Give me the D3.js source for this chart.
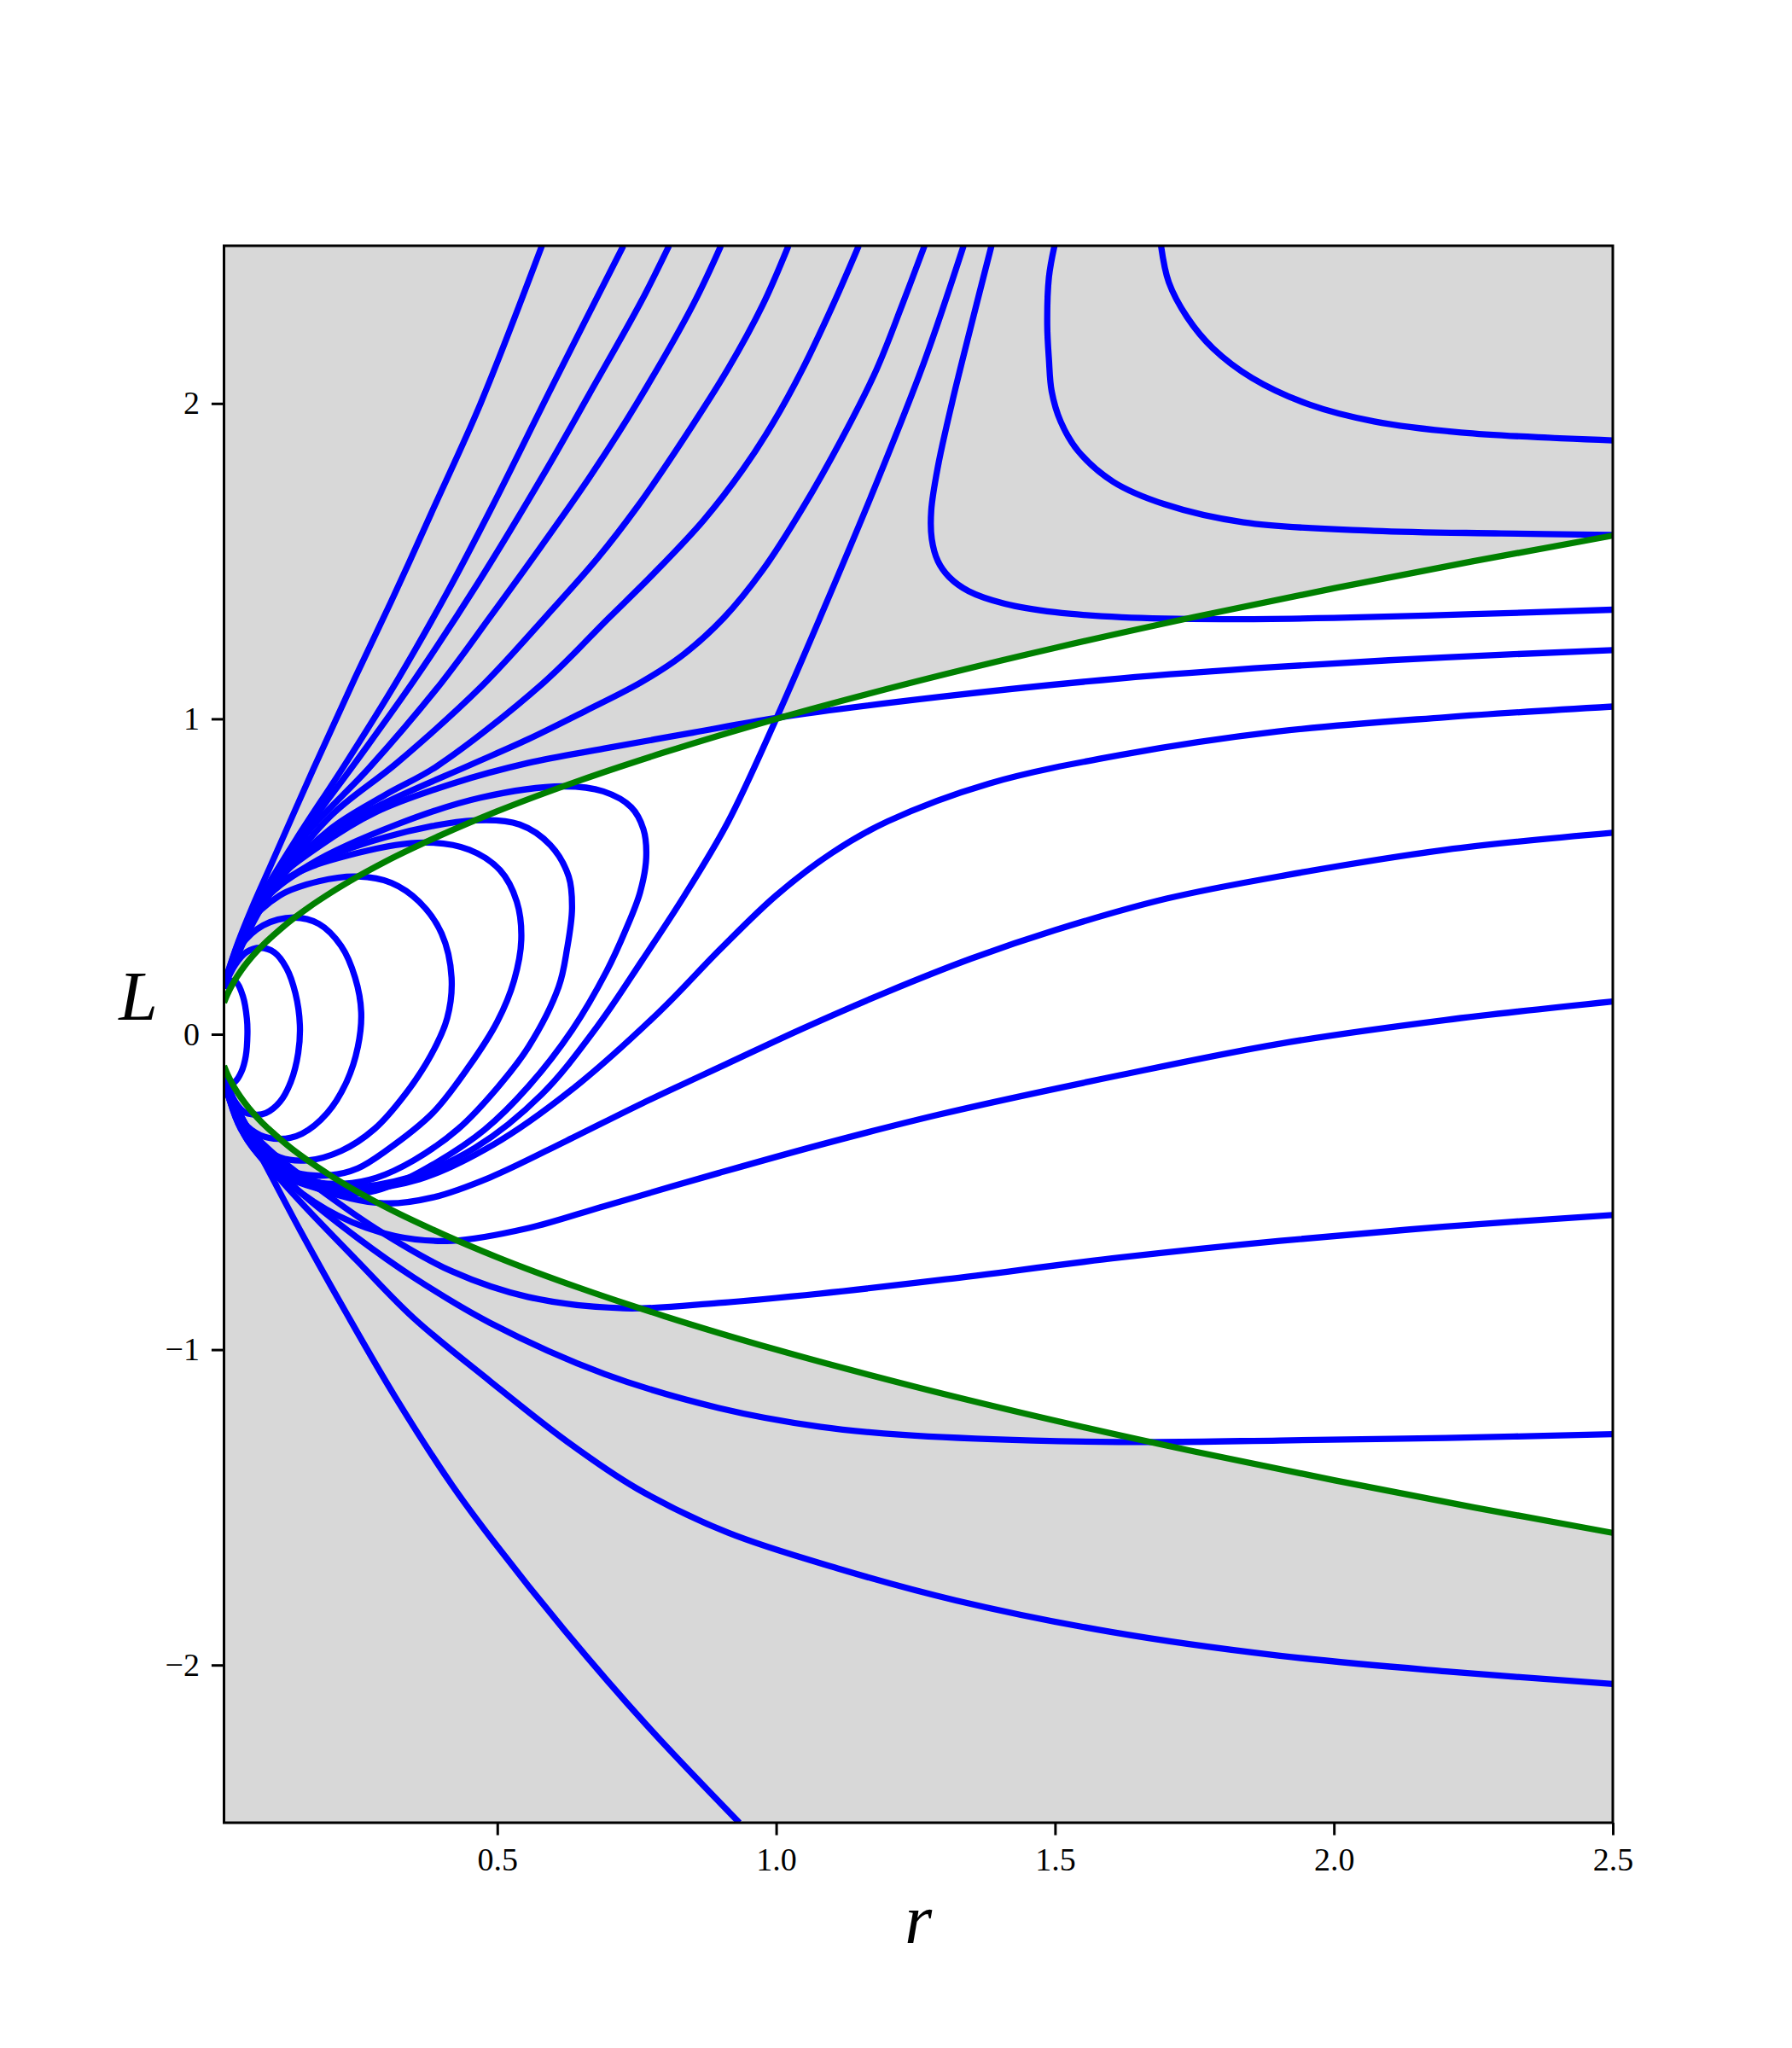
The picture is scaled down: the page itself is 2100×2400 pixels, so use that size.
<!DOCTYPE html>
<html>
<head>
<meta charset="utf-8">
<script src="https://cdn.jsdelivr.net/npm/d3@7"></script>
<style>
  body { margin: 0; background: #fff; }
  svg { display: block; }
</style>
</head>
<body>
<svg id="chart" width="2100" height="2400"></svg>
<script>
// axis ticks
var xTicks = [0.5, 1.0, 1.5, 2.0, 2.5];
var yTicks = [-2, -1, 0, 1, 2];

// boundary L^2 = r (green)
var greenTop = [[0.01,0.1],[0.015,0.122],[0.02,0.141],[0.03,0.173],[0.04,0.2],[0.055,0.235],[0.07,0.265],[0.085,0.292],[0.1,0.316],[0.13,0.361],[0.16,0.4],[0.2,0.447],[0.25,0.5],[0.3,0.548],[0.4,0.632],[0.5,0.707],[0.65,0.806],[0.8,0.894],[1.0,1.0],[1.25,1.118],[1.5,1.225],[1.75,1.323],[2.0,1.414],[2.25,1.5],[2.5,1.581]];
var greenBottom = [[0.01,-0.1],[0.015,-0.122],[0.02,-0.141],[0.03,-0.173],[0.04,-0.2],[0.055,-0.235],[0.07,-0.265],[0.085,-0.292],[0.1,-0.316],[0.13,-0.361],[0.16,-0.4],[0.2,-0.447],[0.25,-0.5],[0.3,-0.548],[0.4,-0.632],[0.5,-0.707],[0.65,-0.806],[0.8,-0.894],[1.0,-1.0],[1.25,-1.118],[1.5,-1.225],[1.75,-1.323],[2.0,-1.414],[2.25,-1.5],[2.5,-1.581]];

// upper fan, left edge -> top edge
var fanA1 = [[0.01,0.16],[0.035,0.29],[0.06,0.40],[0.09,0.52],[0.17,0.84],[0.245,1.13],[0.317,1.40],[0.385,1.665],[0.47,2.0],[0.58,2.5]];
var fanA2 = [[0.01,0.155],[0.04,0.3],[0.075,0.43],[0.14,0.62],[0.225,0.85],[0.32,1.12],[0.41,1.40],[0.49,1.67],[0.6,2.06],[0.726,2.5]];
var fanA3 = [[0.01,0.15],[0.04,0.29],[0.08,0.43],[0.15,0.63],[0.245,0.86],[0.35,1.12],[0.465,1.43],[0.588,1.79],[0.665,2.03],[0.757,2.32],[0.808,2.5]];
var fanA4 = [[0.01,0.15],[0.045,0.31],[0.09,0.46],[0.16,0.64],[0.27,0.844],[0.40,1.115],[0.49,1.33],[0.58,1.55],[0.667,1.77],[0.75,2.0],[0.851,2.313],[0.901,2.5]];
var fanA5 = [[0.01,0.15],[0.05,0.32],[0.1,0.47],[0.2,0.69],[0.32,0.86],[0.47,1.1],[0.59,1.33],[0.68,1.51],[0.75,1.67],[0.82,1.85],[0.913,2.108],[0.976,2.313],[1.022,2.5]];
var fanA6 = [[0.01,0.15],[0.055,0.33],[0.11,0.49],[0.2,0.65],[0.3,0.76],[0.392,0.85],[0.58,1.11],[0.70,1.32],[0.78,1.46],[0.87,1.63],[0.94,1.79],[0.995,1.94],[1.047,2.108],[1.102,2.313],[1.148,2.5]];
var fanA7 = [[0.01,0.15],[0.055,0.33],[0.1,0.48],[0.2,0.64],[0.3,0.735],[0.453,0.855],[0.555,0.935],[0.658,1.025],[0.757,1.115],[0.828,1.196],[0.906,1.32],[0.976,1.472],[1.047,1.667],[1.117,1.886],[1.18,2.108],[1.226,2.313],[1.266,2.5]];

// the two curves through the saddle at (1, 1)
var sepFlat = [[0.01,0.145],[0.05,0.33],[0.1,0.48],[0.18,0.595],[0.283,0.705],[0.42,0.795],[0.555,0.86],[0.692,0.906],[0.85,0.956],[1.0,1.003],[1.3,1.071],[1.616,1.128],[1.9,1.165],[2.2,1.195],[2.5,1.218]];
var sepSteep = [[0.01,-0.13],[0.05,-0.29],[0.1,-0.40],[0.17,-0.465],[0.234,-0.484],[0.34,-0.455],[0.46,-0.36],[0.58,-0.19],[0.679,0.024],[0.76,0.235],[0.835,0.438],[0.913,0.671],[1.0,1.0],[1.085,1.347],[1.18,1.748],[1.266,2.135],[1.336,2.5]];

// upper right, top edge -> right edge
var topC1 = [[1.386,2.5],[1.35,2.25],[1.315,2.0],[1.29,1.8],[1.278,1.66],[1.279,1.57],[1.29,1.5],[1.31,1.45],[1.345,1.405],[1.41,1.365],[1.5,1.338],[1.62,1.322],[1.8,1.316],[2.0,1.32],[2.25,1.332],[2.5,1.346]];
var topC2 = [[1.499,2.5],[1.489,2.4],[1.486,2.25],[1.489,2.14],[1.494,2.038],[1.51,1.943],[1.541,1.85],[1.604,1.752],[1.697,1.68],[1.838,1.623],[2.072,1.596],[2.3,1.588],[2.5,1.583]];
var topC3 = [[1.69,2.5],[1.704,2.384],[1.737,2.273],[1.783,2.175],[1.853,2.081],[1.955,1.997],[2.072,1.943],[2.228,1.908],[2.5,1.883]];

// closed loops, upper fan -> lower fan
var loop1 = [[0.01,0.15],[0.02,0.168],[0.032,0.165],[0.044,0.12],[0.051,0.05],[0.052,0.0],[0.049,-0.07],[0.041,-0.12],[0.03,-0.15],[0.02,-0.155],[0.01,-0.13]];
var loop2 = [[0.01,0.15],[0.03,0.22],[0.05,0.26],[0.075,0.274],[0.1,0.26],[0.122,0.21],[0.138,0.13],[0.146,0.03],[0.143,-0.06],[0.13,-0.15],[0.11,-0.215],[0.085,-0.25],[0.065,-0.255],[0.045,-0.245],[0.025,-0.2],[0.01,-0.14]];
var loop3 = [[0.01,0.15],[0.04,0.28],[0.08,0.345],[0.135,0.37],[0.18,0.35],[0.22,0.28],[0.245,0.18],[0.256,0.07],[0.25,-0.04],[0.23,-0.15],[0.195,-0.25],[0.15,-0.315],[0.11,-0.332],[0.075,-0.32],[0.045,-0.28],[0.02,-0.2],[0.01,-0.14]];
var loop4 = [[0.01,0.15],[0.05,0.34],[0.11,0.44],[0.18,0.485],[0.25,0.5],[0.31,0.48],[0.36,0.42],[0.4,0.32],[0.418,0.18],[0.41,0.05],[0.38,-0.07],[0.335,-0.19],[0.28,-0.3],[0.22,-0.37],[0.16,-0.4],[0.11,-0.39],[0.06,-0.33],[0.025,-0.23],[0.01,-0.14]];
var loop5 = [[0.01,0.15],[0.06,0.38],[0.13,0.5],[0.25,0.575],[0.37,0.608],[0.45,0.585],[0.505,0.52],[0.535,0.42],[0.543,0.3],[0.53,0.17],[0.5,0.04],[0.45,-0.1],[0.384,-0.25],[0.3,-0.37],[0.25,-0.425],[0.2,-0.447],[0.14,-0.44],[0.08,-0.39],[0.035,-0.28],[0.01,-0.14]];
var loop6 = [[0.01,0.15],[0.07,0.4],[0.16,0.53],[0.3,0.625],[0.46,0.678],[0.54,0.665],[0.595,0.6],[0.628,0.5],[0.634,0.4],[0.625,0.27],[0.61,0.15],[0.556,-0.04],[0.5,-0.17],[0.43,-0.3],[0.35,-0.4],[0.283,-0.455],[0.225,-0.474],[0.16,-0.465],[0.09,-0.41],[0.04,-0.3],[0.01,-0.14]];
var loop7 = [[0.01,0.15],[0.07,0.41],[0.166,0.54],[0.32,0.665],[0.47,0.75],[0.618,0.786],[0.69,0.77],[0.74,0.72],[0.762,0.65],[0.767,0.56],[0.756,0.45],[0.73,0.33],[0.696,0.2],[0.634,0.013],[0.556,-0.165],[0.477,-0.303],[0.384,-0.414],[0.31,-0.48],[0.255,-0.505],[0.18,-0.49],[0.1,-0.43],[0.045,-0.31],[0.01,-0.14]];

// lower fan, left edge -> right / bottom edge
var fanB1 = [[0.01,-0.135],[0.05,-0.29],[0.1,-0.39],[0.17,-0.465],[0.25,-0.49],[0.36,-0.46],[0.493,-0.35],[0.634,-0.175],[0.79,0.07],[0.9,0.27],[1.0,0.44],[1.1,0.575],[1.2,0.675],[1.382,0.795],[1.616,0.885],[1.9,0.96],[2.2,1.005],[2.5,1.039]];
var fanB2 = [[0.01,-0.14],[0.05,-0.3],[0.1,-0.41],[0.18,-0.49],[0.296,-0.536],[0.385,-0.517],[0.487,-0.454],[0.624,-0.338],[0.76,-0.219],[0.91,-0.095],[1.05,0.02],[1.2,0.135],[1.35,0.24],[1.5,0.33],[1.7,0.43],[1.916,0.505],[2.2,0.585],[2.5,0.639]];
var fanB3 = [[0.01,-0.14],[0.05,-0.29],[0.1,-0.42],[0.132,-0.48],[0.214,-0.575],[0.317,-0.64],[0.419,-0.655],[0.555,-0.615],[0.692,-0.545],[0.897,-0.44],[1.08,-0.35],[1.291,-0.255],[1.616,-0.13],[1.903,-0.03],[2.2,0.045],[2.5,0.104]];
var fanB4 = [[0.01,-0.145],[0.05,-0.29],[0.1,-0.38],[0.18,-0.49],[0.283,-0.617],[0.419,-0.752],[0.555,-0.833],[0.727,-0.869],[0.897,-0.852],[1.08,-0.822],[1.304,-0.777],[1.616,-0.708],[1.903,-0.655],[2.2,-0.61],[2.5,-0.573]];
var fanB5 = [[0.01,-0.15],[0.05,-0.31],[0.1,-0.42],[0.146,-0.5],[0.248,-0.644],[0.35,-0.771],[0.487,-0.915],[0.692,-1.077],[0.897,-1.185],[1.08,-1.245],[1.226,-1.27],[1.46,-1.288],[1.68,-1.293],[1.903,-1.288],[2.2,-1.28],[2.5,-1.268]];
var fanB6 = [[0.01,-0.155],[0.05,-0.33],[0.112,-0.463],[0.159,-0.554],[0.248,-0.717],[0.35,-0.9],[0.487,-1.1],[0.624,-1.29],[0.75,-1.44],[0.913,-1.58],[1.109,-1.693],[1.322,-1.795],[1.6,-1.895],[1.9,-1.97],[2.2,-2.02],[2.5,-2.06]];
var fanB7 = [[0.01,-0.16],[0.04,-0.27],[0.08,-0.40],[0.146,-0.62],[0.228,-0.88],[0.317,-1.15],[0.419,-1.43],[0.494,-1.61],[0.621,-1.891],[0.768,-2.191],[0.934,-2.5]];

var blueCurves = [fanA1, fanA2, fanA3, fanA4, fanA5, fanA6, fanA7, sepFlat, sepSteep,
  topC1, topC2, topC3, loop1, loop2, loop3, loop4, loop5, loop6, loop7,
  fanB1, fanB2, fanB3, fanB4, fanB5, fanB6, fanB7];

var svg = d3.select("#chart");
var plotLeft = 262.5, plotRight = 1890, plotTop = 288, plotBottom = 2136;

var x = d3.scaleLinear().domain([0.01, 2.5]).range([plotLeft, plotRight]);
var y = d3.scaleLinear().domain([-2.5, 2.5]).range([plotBottom, plotTop]);

svg.append("defs").append("clipPath").attr("id", "plot")
  .append("rect").attr("x", plotLeft).attr("y", plotTop)
  .attr("width", plotRight - plotLeft).attr("height", plotBottom - plotTop);

var plot = svg.append("g").attr("clip-path", "url(#plot)");

// gray regions outside the green boundary
var areaUp = d3.area().x(function(d) { return x(d[0]); })
  .y0(y(2.5)).y1(function(d) { return y(d[1]); }).curve(d3.curveMonotoneX);
var areaDown = d3.area().x(function(d) { return x(d[0]); })
  .y0(y(-2.5)).y1(function(d) { return y(d[1]); }).curve(d3.curveMonotoneX);
plot.append("path").attr("d", areaUp(greenTop)).attr("fill", "#d8d8d8");
plot.append("path").attr("d", areaDown(greenBottom)).attr("fill", "#d8d8d8");

var line = d3.line().x(function(d) { return x(d[0]); }).y(function(d) { return y(d[1]); })
  .curve(d3.curveCatmullRom.alpha(0.5));

plot.selectAll("path.traj").data(blueCurves).enter().append("path")
  .attr("class", "traj")
  .attr("d", line)
  .attr("fill", "none").attr("stroke", "#0000ff").attr("stroke-width", 7.3)
  .attr("stroke-linejoin", "round");

var gline = d3.line().x(function(d) { return x(d[0]); }).y(function(d) { return y(d[1]); })
  .curve(d3.curveMonotoneX);
[greenTop, greenBottom].forEach(function(g) {
  plot.append("path").attr("d", gline(g)).attr("fill", "none")
    .attr("stroke", "#008000").attr("stroke-width", 7.3);
});

// frame
svg.append("rect").attr("x", plotLeft).attr("y", plotTop)
  .attr("width", plotRight - plotLeft).attr("height", plotBottom - plotTop)
  .attr("fill", "none").attr("stroke", "#000").attr("stroke-width", 3);

var font = "'Liberation Serif', 'DejaVu Serif', serif";

var xAxis = d3.axisBottom(x).tickValues(xTicks).tickFormat(d3.format(".1f"))
  .tickSize(14.6).tickSizeOuter(0).tickPadding(14);
var gx = svg.append("g").attr("transform", "translate(0," + plotBottom + ")").call(xAxis);

var yAxis = d3.axisLeft(y).tickValues(yTicks)
  .tickFormat(function(d) { return d < 0 ? "\u2212" + Math.abs(d) : String(d); })
  .tickSize(14.6).tickSizeOuter(0).tickPadding(14);
var gy = svg.append("g").attr("transform", "translate(" + plotLeft + ",0)").call(yAxis);

[gx, gy].forEach(function(g) {
  g.select(".domain").remove();
  g.selectAll(".tick line").attr("stroke", "#000").attr("stroke-width", 3);
  g.selectAll(".tick text").attr("fill", "#000")
    .style("font-family", font).style("font-size", "38px");
});

svg.append("text").attr("x", (plotLeft + plotRight) / 2).attr("y", 2277)
  .attr("text-anchor", "middle")
  .style("font-family", font).style("font-style", "italic").style("font-size", "82px")
  .text("r");

svg.append("text").attr("x", 162).attr("y", 1195)
  .attr("text-anchor", "middle")
  .style("font-family", font).style("font-style", "italic").style("font-size", "82px")
  .text("L");
</script>
</body>
</html>
